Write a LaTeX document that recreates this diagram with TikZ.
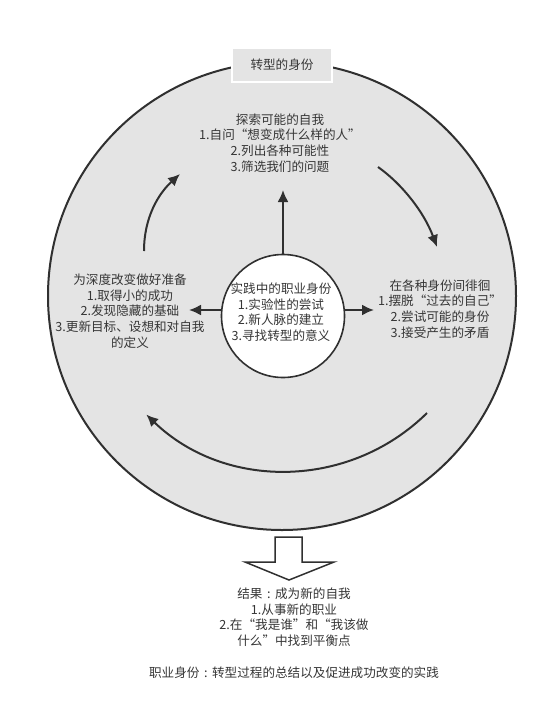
\documentclass[tikz,border=0pt]{standalone}
\usepackage{fontspec}
\newfontfamily\cjk{Noto Sans CJK SC}
\usetikzlibrary{arrows.meta}
\definecolor{ink}{HTML}{303030}
\definecolor{txt}{HTML}{363636}
\definecolor{disc}{HTML}{E4E4E4}
% centred full-width colon
\newcommand{\midcolon}{\hbox to 1em{\hss:\hss}}
\begin{document}
\begin{tikzpicture}[x=1pt,y=-1pt,
  every node/.style={font=\cjk\fontsize{12.6}{15.6}\selectfont, text=txt, align=center, inner sep=0pt},
  flow/.style={draw=ink, line width=2pt, -{Latex[length=12pt,width=11pt]}},
  spoke/.style={draw=ink, line width=2pt, -{Latex[length=12pt,width=11pt]}}]
\useasboundingbox (0,0) rectangle (553,723);
\fill[white] (0,0) rectangle (553,723);

% outer disc and title tab
\node (outer) [circle, draw=ink, line width=2pt, fill=disc, minimum size=468pt] at (282,296) {};
\node (title) [draw=white, line width=2.5pt, fill=disc, minimum width=100pt, minimum height=34pt] at (282,65) {转型的身份};

% centre circle
\node (core) [circle, draw=ink, line width=1.6pt, fill=white, minimum size=123pt] at (283,316) {};
\node (coretext) at (281,312) {实践中的职业身份\\1.实验性的尝试\\2.新人脉的建立\\3.寻找转型的意义};

% three stages
\node (explore) at (280,143) {探索可能的自我\\1.自问“想变成什么样的人”\\2.列出各种可能性\\3.筛选我们的问题};
\node (prepare) at (130,311) {为深度改变做好准备\\1.取得小的成功\\2.发现隐藏的基础\\3.更新目标、设想和对自我\\的定义};
\node (wander) at (440,309) {在各种身份间徘徊\\1.摆脱“过去的自己”\\2.尝试可能的身份\\3.接受产生的矛盾};

% spokes from the centre
\coordinate (upTip) at (283,190);
\coordinate (leftTip) at (189,310);
\coordinate (rightTip) at (374,310);
\draw[spoke] (core.north) -- (upTip);
\draw[spoke] (core.west |- leftTip) -- (leftTip);
\draw[spoke] (core.east |- rightTip) -- (rightTip);

% cycle arrows
\coordinate (a1s) at (144,251);
\coordinate (a1e) at (180,174);
\coordinate (a2s) at (378,167);
\coordinate (a2e) at (437,247);
\coordinate (a3s) at (427,413);
\draw[flow] (a1s) .. controls (144,218) and (158,194) .. (a1e);
\draw[flow] (a2s) .. controls (402,184) and (424,212) .. (a2e);
\draw[flow] (a3s) arc[start angle=45.4, end angle=134, radius=201];

% result arrow
\draw[draw=ink, line width=1.5pt, fill=white, line join=miter]
  (275,537) -- (302,537) -- (302,562) -- (334,562) -- (289,580)
  -- (245,562) -- (275,562) -- cycle;
\node (result) at (294,617) {结果\midcolon 成为新的自我\\1.从事新的职业\\2.在“我是谁”和“我该做\\什么”中找到平衡点};

\node (footer) at (294,673) {职业身份\midcolon 转型过程的总结以及促进成功改变的实践};
\end{tikzpicture}
\end{document}
